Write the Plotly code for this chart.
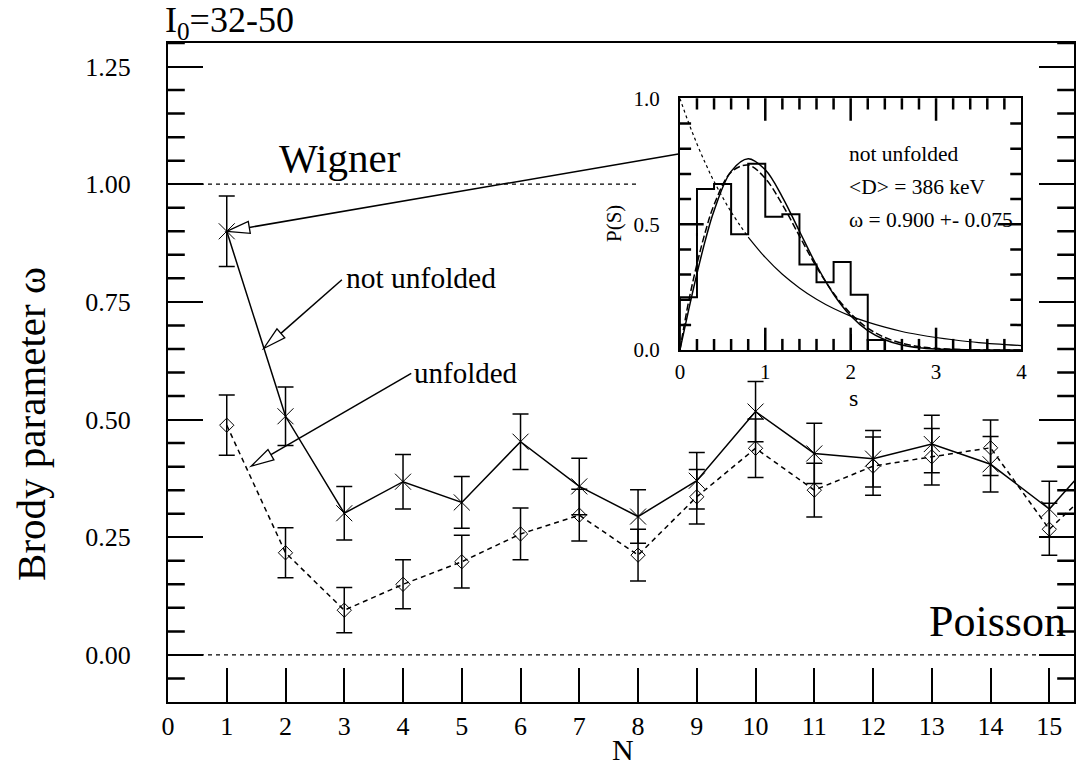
import numpy as np
import plotly.graph_objects as go

# ---------------- data ----------------
N = list(range(1, 17))
BRODY_NOT_UNFOLDED = [0.900, 0.507, 0.301, 0.368, 0.324, 0.453, 0.358, 0.294,
                      0.370, 0.517, 0.428, 0.417, 0.448, 0.405, 0.310, 0.450]
ERR_NOT_UNFOLDED = [0.075, 0.062, 0.057, 0.058, 0.055, 0.059, 0.060, 0.057,
                    0.060, 0.064, 0.064, 0.060, 0.061, 0.059, 0.059, 0.060]
BRODY_UNFOLDED = [0.488, 0.217, 0.095, 0.150, 0.198, 0.257, 0.297, 0.212,
                  0.336, 0.439, 0.350, 0.401, 0.421, 0.440, 0.267, 0.385]
ERR_UNFOLDED = [0.064, 0.053, 0.048, 0.052, 0.056, 0.055, 0.055, 0.055,
                0.058, 0.062, 0.057, 0.062, 0.060, 0.059, 0.055, 0.055]

WIGNER_LEVEL = 1.0
WIGNER_LINE_END = 8.0
POISSON_LEVEL = 0.0

# inset: nearest-neighbour spacing distribution
HIST_BIN_WIDTH = 0.2
HIST_VALUES = [0.21, 0.64, 0.66, 0.46, 0.74, 0.53, 0.54, 0.34, 0.27, 0.35, 0.22, 0.04]
S_GRID = [0.0, 0.1, 0.2, 0.3, 0.4, 0.6, 0.8, 1.0, 1.2, 1.4, 1.6, 1.8, 2.0,
          2.2, 2.4, 2.6, 2.8, 3.0, 3.2, 3.5, 4.0]
P_WIGNER = [0.0, 0.156, 0.304, 0.439, 0.554, 0.710, 0.760, 0.716, 0.608, 0.472,
            0.337, 0.222, 0.136, 0.077, 0.041, 0.020, 0.009, 0.004, 0.002, 0.0005, 0.0]
P_BRODY = [0.0, 0.189, 0.342, 0.472, 0.577, 0.707, 0.735, 0.682, 0.578, 0.453,
           0.330, 0.226, 0.145, 0.087, 0.050, 0.027, 0.014, 0.007, 0.003, 0.001, 0.0]
P_POISSON = [1.0, 0.905, 0.819, 0.741, 0.670, 0.549, 0.449, 0.368, 0.301, 0.247,
             0.202, 0.165, 0.135, 0.111, 0.091, 0.074, 0.061, 0.050, 0.041, 0.030, 0.018]
POISSON_DASH_UNTIL = 0.8

# ---------------- layout geometry ----------------
W, H = 1081, 770
ML, MR, MT, MB = 168, 1, 43, 68
PW, PH = W - ML - MR, H - MT - MB
XR = [0.0, 15.42]
YR = [-0.1, 1.3]
SR = [0.0, 4.0]
PR = [0.0, 1.0]
INSET_X = [0.565, 0.942]
INSET_Y = [0.534, 0.916]
INSET_W = (INSET_X[1] - INSET_X[0]) * PW
INSET_H = (INSET_Y[1] - INSET_Y[0]) * PH
SERIF = "Liberation Serif, Times New Roman, serif"
TICK_W = 2


def main_to_px(x, y):
    return (ML + (x - XR[0]) / (XR[1] - XR[0]) * PW,
            MT + (YR[1] - y) / (YR[1] - YR[0]) * PH)


def px_to_main(px, py):
    return (XR[0] + (px - ML) / PW * (XR[1] - XR[0]),
            YR[1] - (py - MT) / PH * (YR[1] - YR[0]))


def inset_to_px(s, p):
    x0 = ML + INSET_X[0] * PW
    x1 = ML + INSET_X[1] * PW
    yb = MT + (1 - INSET_Y[0]) * PH
    yt = MT + (1 - INSET_Y[1]) * PH
    return x0 + s / 4.0 * (x1 - x0), yb + p * (yt - yb)


fig = go.Figure()

# reference levels
fig.add_trace(go.Scatter(x=[XR[0], WIGNER_LINE_END], y=[WIGNER_LEVEL] * 2, mode="lines",
                         line=dict(color="black", width=1.3, dash="4px,4px"),
                         showlegend=False, hoverinfo="skip"))
fig.add_trace(go.Scatter(x=[XR[0], XR[1]], y=[POISSON_LEVEL] * 2, mode="lines",
                         line=dict(color="black", width=1.3, dash="4px,4px"),
                         showlegend=False, hoverinfo="skip"))

# unfolded (diamonds, dashed)
fig.add_trace(go.Scatter(
    x=N, y=BRODY_UNFOLDED, mode="lines+markers",
    line=dict(color="black", width=1.5, dash="5px,4px"),
    marker=dict(symbol="diamond-open", size=11, color="black", line=dict(width=1)),
    error_y=dict(type="data", array=ERR_UNFOLDED, color="black", thickness=1.5, width=8),
    showlegend=False))

# not unfolded (crosses, solid)
fig.add_trace(go.Scatter(
    x=N, y=BRODY_NOT_UNFOLDED, mode="lines+markers",
    line=dict(color="black", width=1.5),
    marker=dict(symbol="x-thin-open", size=16, color="black", line=dict(width=1, color="black")),
    error_y=dict(type="data", array=ERR_NOT_UNFOLDED, color="black", thickness=1.5, width=8),
    showlegend=False))

# ---------------- inset ----------------
edges = [i * HIST_BIN_WIDTH for i in range(len(HIST_VALUES) + 1)]
hx = [edges[0]] + edges
hy = [0.0] + HIST_VALUES + [0.0]
fig.add_trace(go.Scatter(x=hx, y=hy, mode="lines", line=dict(color="black", width=2, shape="hv"),
                         xaxis="x2", yaxis="y2", showlegend=False, hoverinfo="skip"))

fig.add_trace(go.Scatter(x=S_GRID, y=P_WIGNER, mode="lines",
                         line=dict(color="black", width=1.5, shape="spline"),
                         xaxis="x2", yaxis="y2", showlegend=False, hoverinfo="skip"))
fig.add_trace(go.Scatter(x=S_GRID, y=P_BRODY, mode="lines",
                         line=dict(color="black", width=1.5, shape="spline", dash="7px,3px"),
                         xaxis="x2", yaxis="y2", showlegend=False, hoverinfo="skip"))
sd = [s for s in S_GRID if s <= POISSON_DASH_UNTIL]
ss = [s for s in S_GRID if s >= POISSON_DASH_UNTIL]
fig.add_trace(go.Scatter(x=sd, y=P_POISSON[:len(sd)], mode="lines",
                         line=dict(color="black", width=1.2, shape="spline", dash="3px,3px"),
                         xaxis="x2", yaxis="y2", showlegend=False, hoverinfo="skip"))
fig.add_trace(go.Scatter(x=ss, y=P_POISSON[len(S_GRID) - len(ss):], mode="lines",
                         line=dict(color="black", width=1.2, shape="spline"),
                         xaxis="x2", yaxis="y2", showlegend=False, hoverinfo="skip"))


# ---------------- minor tick marks: line markers centred on the axes, clipped to the plot ----
def is_multiple(v, step):
    r = round(v / step)
    return abs(v - r * step) < 1e-6


def tick_markers(xs, ys, symbol, length_px, xaxis, yaxis):
    return go.Scatter(x=xs, y=ys, mode="markers", cliponaxis=True,
                      marker=dict(symbol=symbol, size=2 * length_px, color="black",
                                  line=dict(color="black", width=2.5)),
                      xaxis=xaxis, yaxis=yaxis, showlegend=False, hoverinfo="skip")


main_minor_y = [float(v) for v in np.arange(-0.05, YR[1] + 1e-9, 0.05)
                if not is_multiple(v, 0.25) and v > YR[0] + 1e-9]
fig.add_trace(tick_markers([XR[0]] * len(main_minor_y) + [XR[1]] * len(main_minor_y),
                           main_minor_y * 2, "line-ew-open", 12, "x", "y"))

inset_minor_x = [float(v) for v in np.arange(0.2, 4.0 - 1e-9, 0.2) if not is_multiple(v, 1.0)]
fig.add_trace(tick_markers(inset_minor_x * 2,
                           [PR[0]] * len(inset_minor_x) + [PR[1]] * len(inset_minor_x),
                           "line-ns-open", 8, "x2", "y2"))
inset_major_x = [1.0, 2.0, 3.0]
fig.add_trace(tick_markers(inset_major_x * 2, [PR[0]] * 3 + [PR[1]] * 3,
                           "line-ns-open", 16, "x2", "y2"))

inset_minor_y = [float(v) for v in np.arange(0.1, 1.0 - 1e-9, 0.1) if not is_multiple(v, 0.5)]
fig.add_trace(tick_markers([SR[0]] * len(inset_minor_y) + [SR[1]] * len(inset_minor_y),
                           inset_minor_y * 2, "line-ew-open", 8, "x2", "y2"))
fig.add_trace(tick_markers([SR[0], SR[1]], [0.5, 0.5], "line-ew-open", 17, "x2", "y2"))

shapes = []


# ---------------- arrows with hollow heads ----------------
def add_arrow(tail_px, tip_px, L=23, w=6):
    tx, ty = tip_px
    ax, ay = tail_px
    dx, dy = ax - tx, ay - ty
    d = (dx * dx + dy * dy) ** 0.5
    ux, uy = dx / d, dy / d
    bx, by = tx + ux * L, ty + uy * L
    nx, ny = -uy, ux
    c1 = (bx + nx * w, by + ny * w)
    c2 = (bx - nx * w, by - ny * w)
    p_a = px_to_main(ax, ay)
    p_b = px_to_main(bx, by)
    shapes.append(dict(type="line", xref="x", yref="y", x0=p_a[0], y0=p_a[1], x1=p_b[0], y1=p_b[1],
                       line=dict(color="black", width=1.5), layer="above"))
    pts = [px_to_main(tx, ty), px_to_main(*c1), px_to_main(*c2)]
    path = "M {} {} L {} {} L {} {} Z".format(pts[0][0], pts[0][1], pts[1][0], pts[1][1],
                                              pts[2][0], pts[2][1])
    shapes.append(dict(type="path", xref="x", yref="y", path=path, fillcolor="white",
                       line=dict(color="black", width=1.3), layer="above"))


add_arrow(inset_to_px(0.0, 0.78), main_to_px(N[0], BRODY_NOT_UNFOLDED[0]))
add_arrow(main_to_px(2.96, 0.797), main_to_px(1.628, 0.651))
add_arrow(main_to_px(4.14, 0.598), main_to_px(1.415, 0.401))

# ---------------- annotations ----------------
ann = []


def txt(text, x, y, size, xref="x", yref="y", xanchor="center", angle=0):
    ann.append(dict(text=text, x=x, y=y, xref=xref, yref=yref, showarrow=False,
                    xanchor=xanchor, yanchor="middle", textangle=angle,
                    font=dict(family=SERIF, size=size, color="black")))


def paper(px, py):
    return (px - ML) / PW, 1 - (py - MT) / PH


txt("Wigner", 2.925, 1.056, 41)
txt("Poisson", 14.12, 0.072, 44)
txt("not unfolded", 2.99, 0.80, 29.5, xanchor="left")
txt("unfolded", 4.16, 0.60, 29, xanchor="left")
txt("not unfolded", 1.96, 0.779, 21.5, xref="x2", yref="y2", xanchor="left")
txt("&lt;D&gt; = 386 keV", 1.96, 0.649, 21.5, xref="x2", yref="y2", xanchor="left")
txt("ω = 0.900 +- 0.075", 1.96, 0.516, 21.5, xref="x2", yref="y2", xanchor="left")

px_, py_ = paper(163, 22)
txt("I<sub>0</sub>=32-50", px_, py_, 36, xref="paper", yref="paper", xanchor="left")
px_, py_ = paper(626, 749)
txt("N", px_, py_, 30, xref="paper", yref="paper")
px_, py_ = paper(30, 424)
txt("Brody parameter ω", px_, py_, 41, xref="paper", yref="paper", angle=-90)
px_, py_ = paper(617, 224)
txt("P(S)", px_, py_, 21, xref="paper", yref="paper", angle=-90)
px_, py_ = paper(858, 398)
txt("s", px_, py_, 24, xref="paper", yref="paper")

major_common = dict(ticks="inside", tickcolor="black", showgrid=False, zeroline=False,
                    showline=True, linewidth=2, linecolor="black")

fig.update_layout(
    width=W, height=H,
    margin=dict(l=ML, r=MR, t=MT, b=MB, pad=0),
    paper_bgcolor="white", plot_bgcolor="white",
    showlegend=False,
    font=dict(family=SERIF, color="black"),
    xaxis=dict(range=XR, tickmode="linear", tick0=0, dtick=1, ticklen=34, tickwidth=TICK_W,
               mirror=True, tickfont=dict(family=SERIF, size=26, color="black"),
               ticklabelstandoff=0, **major_common),
    yaxis=dict(range=YR, tickmode="linear", tick0=0, dtick=0.25, tickformat=".2f",
               ticklen=35, tickwidth=TICK_W, mirror="ticks",
               tickfont=dict(family=SERIF, size=26, color="black"), ticklabelstandoff=30,
               **major_common),
    xaxis2=dict(domain=INSET_X, anchor="y2", range=SR, tickmode="linear", tick0=0, dtick=1,
                ticklen=16, tickwidth=TICK_W, mirror=True,
                tickfont=dict(family=SERIF, size=21, color="black"), ticklabelstandoff=2,
                **major_common),
    yaxis2=dict(domain=INSET_Y, anchor="x2", range=PR, tickmode="linear", tick0=0, dtick=0.5,
                tickformat=".1f", ticklen=17, tickwidth=TICK_W, mirror=True,
                tickfont=dict(family=SERIF, size=21, color="black"), ticklabelstandoff=14,
                **major_common),
    shapes=shapes,
    annotations=ann,
)

fig.write_html("out.html")
